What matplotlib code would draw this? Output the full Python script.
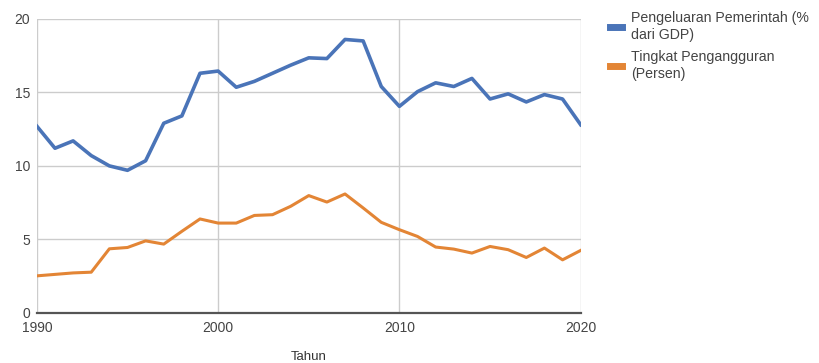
import matplotlib.pyplot as plt

plt.rcParams["font.family"] = ["Liberation Sans", "DejaVu Sans"]

years = list(range(1990, 2021))
spending = [12.7, 11.2, 11.7, 10.7, 10.0, 9.7, 10.35, 12.9, 13.4, 16.3,
            16.45, 15.35, 15.75, 16.3, 16.85, 17.35, 17.3, 18.6, 18.5, 15.4,
            14.05, 15.05, 15.65, 15.4, 15.95, 14.55, 14.9, 14.35, 14.85, 14.55,
            12.8]
unemployment = [2.52, 2.62, 2.72, 2.77, 4.36, 4.45, 4.9, 4.68, 5.55, 6.39,
                6.11, 6.11, 6.63, 6.68, 7.25, 7.98, 7.54, 8.09, 7.14, 6.16,
                5.66, 5.2, 4.48, 4.34, 4.07, 4.52, 4.3, 3.77, 4.41, 3.61,
                4.25]
labels = ["Pengeluaran Pemerintah (%\ndari GDP)",
          "Tingkat Pengangguran\n(Persen)"]
xticks = [1990, 2000, 2010, 2020]
yticks = [0, 5, 10, 15, 20]

fig = plt.figure(figsize=(8.19, 3.63), dpi=100)
ax = fig.add_axes([0.045, 0.138, 0.664, 0.81])

ax.plot(years, spending, color="#4a74b8", lw=2.6, label=labels[0])
ax.plot(years, unemployment, color="#e38535", lw=2.2, label=labels[1])

ax.set_xlim(1990, 2020)
ax.set_ylim(0, 20)
ax.set_xticks(xticks)
ax.set_yticks(yticks)
ax.grid(True, color="#cccccc", lw=1)
ax.set_axisbelow(True)
ax.tick_params(length=0, labelsize=10, colors="#444444")
ax.tick_params(axis="x", pad=6)
ax.tick_params(axis="y", pad=5)
for s in ["top", "right", "left"]:
    ax.spines[s].set_visible(False)
ax.spines["bottom"].set_color("#555555")
ax.spines["bottom"].set_linewidth(1.6)

ax.set_xlabel("Tahun", fontsize=9.5, color="#333333", labelpad=11)

leg = ax.legend(loc="upper left", bbox_to_anchor=(1.03, 1.07), frameon=False,
                fontsize=10.2, handlelength=0.9, handletextpad=0.6,
                labelspacing=0.6, labelcolor="#444444")
for t in leg.get_texts():
    t.set_linespacing(1.25)
for h in leg.get_lines():
    h.set_linewidth(5)

fig.savefig("out.png", dpi=100)
